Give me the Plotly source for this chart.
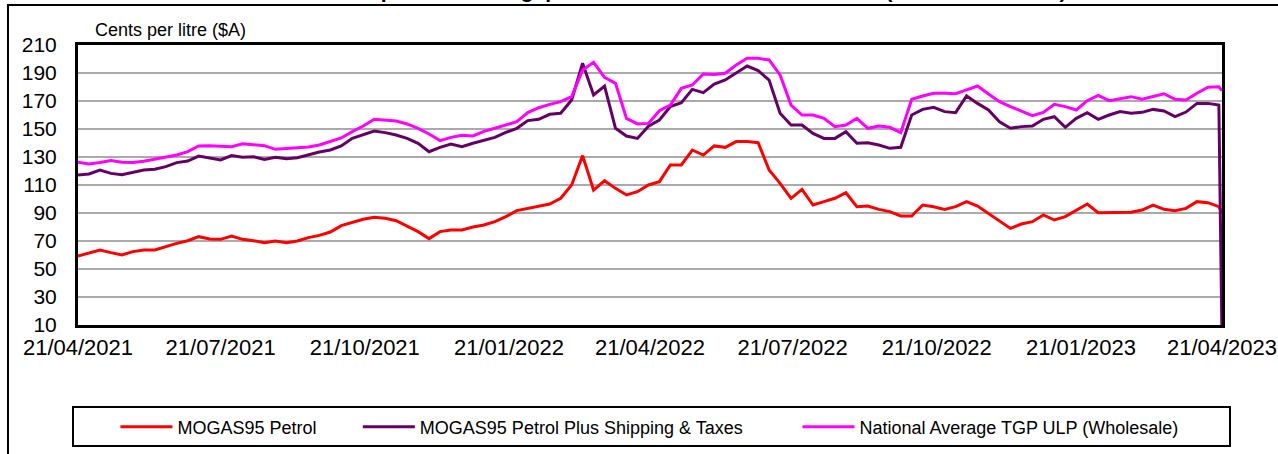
import pandas as pd
import plotly.graph_objects as go

# Weekly observations from 21/04/2021, final point 21/04/2023
dates = pd.date_range("2021-04-21", periods=105, freq="7D").tolist() + [pd.Timestamp("2023-04-21")]

mogas95 = [
    59.3, 61.7, 63.6, 61.7, 60.0, 62.4, 63.6, 63.6, 66.0, 68.3, 70.2, 73.1, 71.4, 71.2,
    73.6, 71.2, 70.2, 68.8, 70.0, 68.8, 70.0, 72.4, 74.0, 76.4, 81.0, 83.1, 85.5,
    87.0, 86.2, 84.5, 80.7, 76.7, 71.7, 76.7, 77.9, 77.9, 80.0, 81.4, 83.8, 87.4,
    91.7, 93.3, 94.5, 96.4, 100.5, 110.0, 131.0, 106.4, 113.1, 107.6, 102.9, 105.2, 110.0,
    112.4, 124.3, 124.3, 135.0, 131.4, 137.9, 136.9, 141.0, 141.0, 140.2, 120.7, 111.2, 100.5,
    106.9, 95.7, 98.1, 100.5, 104.5, 94.5, 95.0, 92.6, 91.0, 87.9, 87.9, 95.7, 94.5,
    92.6, 94.5, 98.1, 95.0, 89.8, 84.5, 79.0, 82.1, 83.8, 88.6, 85.0, 87.4, 92.1,
    96.4, 90.2, 90.2, 90.5, 90.5, 92.1, 95.7, 92.6, 91.7, 93.3, 98.1, 97.4, 94.5, 89.8,
]

mogas95_shipping_taxes = [
    117.1, 117.9, 120.7, 118.3, 117.4, 119.3, 120.7, 121.2, 123.1, 126.0, 127.1, 130.7, 129.3, 127.9,
    131.0, 129.8, 130.2, 128.3, 129.8, 128.8, 129.5, 131.7, 133.6, 135.0, 137.9, 143.3, 145.7,
    148.6, 147.4, 145.7, 143.3, 139.8, 133.8, 136.9, 139.3, 137.4, 139.8, 142.1, 144.0, 147.6,
    150.5, 156.0, 156.9, 160.5, 161.2, 170.7, 197.0, 174.3, 180.7, 150.5, 145.0, 143.3, 152.0,
    156.4, 166.0, 168.8, 178.3, 176.0, 182.1, 185.0, 190.2, 195.0, 191.7, 185.0, 161.2, 152.9,
    152.9, 146.9, 143.3, 143.3, 148.1, 139.8, 140.2, 138.6, 136.2, 136.9, 160.0, 164.0, 165.5,
    162.4, 161.7, 173.6, 168.3, 163.6, 155.2, 150.5, 151.7, 152.1, 156.9, 158.8, 151.2, 157.6,
    161.7, 156.9, 160.0, 162.4, 161.2, 161.9, 164.0, 162.9, 158.8, 162.1, 168.3, 168.3, 167.1, 0.0,
]

tgp_ulp = [
    126.2, 125.0, 126.0, 127.4, 126.2, 126.0, 126.9, 128.3, 129.8, 131.4, 133.8, 137.9, 138.1, 137.9,
    137.4, 139.5, 138.6, 138.1, 135.5, 136.2, 136.9, 137.1, 138.6, 141.0, 143.6, 148.1, 152.1,
    156.9, 156.4, 155.7, 153.6, 150.5, 146.4, 141.7, 144.0, 145.5, 145.0, 148.3, 150.5, 152.9,
    155.2, 161.7, 165.2, 167.6, 169.5, 173.1, 192.1, 197.6, 186.9, 182.6, 157.6, 153.6, 154.0,
    163.1, 167.1, 179.0, 181.4, 189.3, 189.0, 189.8, 195.7, 200.5, 200.5, 199.3, 188.6, 167.1,
    160.0, 160.0, 157.6, 151.7, 152.9, 157.6, 150.5, 152.1, 151.2, 147.4, 171.2, 173.6, 175.5,
    175.5, 175.2, 177.9, 180.7, 175.0, 169.5, 166.0, 162.6, 159.5, 161.9, 167.6, 166.0, 163.6,
    170.2, 174.0, 170.2, 171.9, 173.1, 171.2, 173.1, 175.2, 171.2, 170.7, 175.5, 179.8, 180.2, 177.4,
]

series_names = [
    "MOGAS95 Petrol",
    "MOGAS95 Petrol Plus Shipping & Taxes",
    "National Average TGP ULP (Wholesale)",
]
series_colors = ["#ff0000", "#660066", "#ff00ff"]
series_values = [mogas95, mogas95_shipping_taxes, tgp_ulp]
legend_ids = ["legend", "legend2", "legend3"]

FONT = "Liberation Sans, Arial, sans-serif"

fig = go.Figure()
for name, color, vals, lg in zip(series_names, series_colors, series_values, legend_ids):
    fig.add_trace(go.Scatter(
        x=dates, y=vals, mode="lines", name=name,
        line=dict(color=color, width=3),
        legend=lg, showlegend=True,
    ))

x_range = ["2021-04-21", "2023-04-21"]
tick_common = dict(type="date", range=x_range, tick0="2021-04-21", dtick="M3",
                   automargin=False, showgrid=False, zeroline=False)

fig.update_layout(
    width=1278, height=454,
    margin=dict(l=78, r=56, t=45, b=129, autoexpand=False),
    showlegend=True,
    paper_bgcolor="white", plot_bgcolor="white",
    font=dict(family=FONT, color="black"),
    xaxis=dict(
        **tick_common,
        tickformat="%d/%m/%Y", ticks="",
        showline=True, linecolor="black", linewidth=3, mirror=True,
        tickfont=dict(size=22, family=FONT, color="black"),
        ticklabelstandoff=1,
    ),
    # upper half of the major ticks plus the minor ticks (inside)
    xaxis2=dict(
        **tick_common, overlaying="x", anchor="y", side="bottom",
        ticks="inside", ticklen=7, tickwidth=2, tickcolor="black",
        minor=dict(dtick="M1", tick0="2021-04-21", ticks="inside", ticklen=4,
                   tickwidth=2, tickcolor="black", showgrid=False),
        showticklabels=False, showline=False,
    ),
    # lower half of the major ticks (outside)
    xaxis3=dict(
        **tick_common, overlaying="x", anchor="y", side="bottom",
        ticks="outside", ticklen=5, tickwidth=2, tickcolor="black",
        showticklabels=False, showline=False,
    ),
    yaxis=dict(
        range=[10, 210], dtick=20, tick0=10, automargin=False,
        showgrid=True, gridcolor="#aaaaaa", gridwidth=2,
        zeroline=False, ticks="",
        showline=True, linecolor="black", linewidth=3, mirror=True,
        tickfont=dict(size=21, family=FONT, color="black"),
        ticklabelstandoff=14,
    ),
)

# legends: one per series, laid out in a single row inside the legend frame
leg_common = dict(orientation="h", bgcolor="rgba(0,0,0,0)", borderwidth=0,
                  font=dict(size=18, family=FONT, color="black"),
                  xref="container", yref="container", itemwidth=52,
                  yanchor="middle", xanchor="left", y=0.0595)
fig.update_layout(
    legend=dict(x=0.0903, **leg_common),
    legend2=dict(x=0.2800, **leg_common),
    legend3=dict(x=0.6240, **leg_common),
)

# legend frame and outer chart frame
fig.add_shape(type="rect", xref="paper", yref="paper",
              x0=-0.00437, x1=1.007, y0=-0.2929, y1=-0.432,
              line=dict(color="black", width=2), layer="below")
fig.add_shape(type="rect", xref="paper", yref="paper",
              x0=-0.0612, x1=1.08, y0=1.143, y1=-0.55,
              line=dict(color="black", width=2), layer="below")

fig.add_annotation(text="Cents per litre ($A)", xref="paper", yref="paper",
                   x=0.0131, y=1.054, xanchor="left", yanchor="middle",
                   showarrow=False, font=dict(size=18, family=FONT, color="black"))

# chart title sits above the top edge, only its lowest strokes show (as in the source)
fig.add_annotation(text="Comparison of Singapore MOGAS95 and National TGP (Australian Cents)",
                   xref="paper", yref="paper", x=0.5437, y=1.1475,
                   xanchor="center", yanchor="bottom", showarrow=False,
                   font=dict(size=21, family=FONT, color="black", weight="bold"))

fig.write_html("out.html", config={"displayModeBar": False},
               post_script="document.body.style.margin='0';")
